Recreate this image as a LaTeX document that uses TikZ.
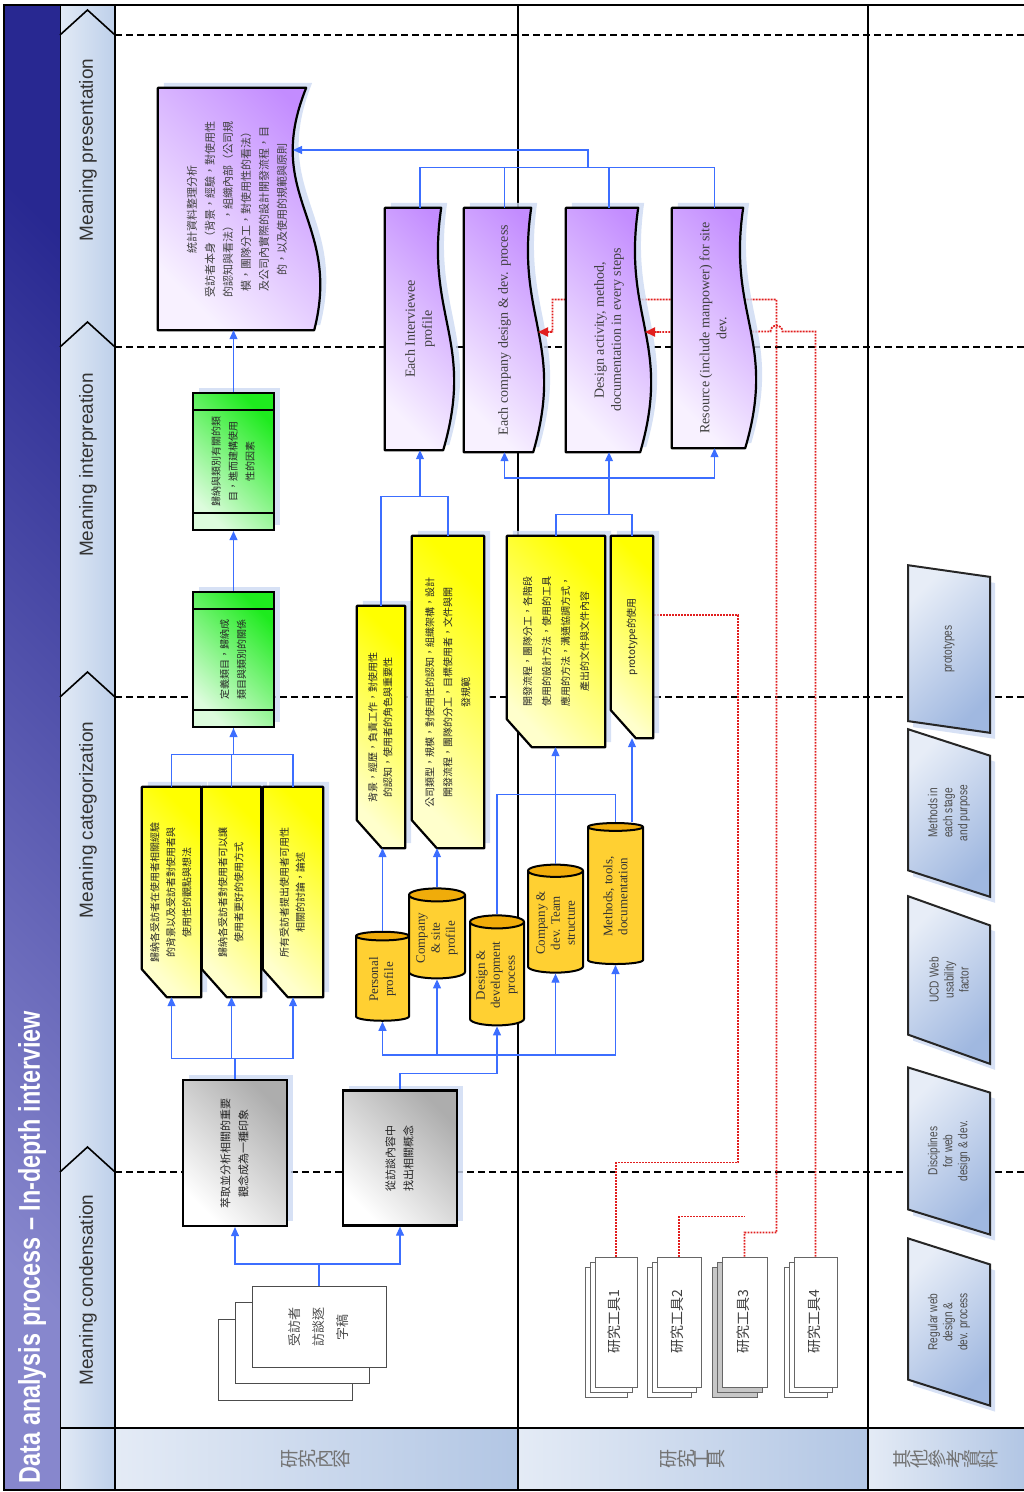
\documentclass[tikz,border=0pt]{standalone}
\usepackage{fontspec}
\setmainfont{Liberation Serif}
\setsansfont{Liberation Sans}
\newfontfamily\cjk{Noto Sans CJK TC}
\newfontfamily\condsans[FakeStretch=0.78]{Liberation Sans}
\usetikzlibrary{shapes.geometric,shadows,arrows.meta,calc}

\definecolor{flowblue}{RGB}{60,110,255}
\definecolor{linkred}{RGB}{225,30,30}
\definecolor{titleblue}{RGB}{40,40,145}
\definecolor{titlelight}{RGB}{135,135,205}
\definecolor{bandblue}{RGB}{190,208,234}
\definecolor{bandrow}{RGB}{178,198,228}
\definecolor{shadowblue}{RGB}{205,218,242}
\definecolor{docpurple}{RGB}{195,140,255}
\definecolor{boxgreen}{RGB}{30,235,30}
\definecolor{cylbody}{RGB}{255,208,50}
\definecolor{cylend}{RGB}{240,172,10}
\definecolor{refblue}{RGB}{160,184,224}

\pgfdeclarelayer{lanes}
\pgfdeclarelayer{links}
\pgfdeclarelayer{docs}
\pgfsetlayers{lanes,links,docs,main}

% lines of text running bottom to top
\newcommand{\vlines}[1]{\rotatebox{90}{\begin{tabular}{@{}c@{}}#1\end{tabular}}}
% one character laid on its side
\newcommand{\sidechar}[1]{\rotatebox[origin=c]{90}{#1}}
% document outline with a wavy right edge, behind node #1
\newcommand{\docedge}[5]{%
  \begin{pgfonlayer}{docs}
    \draw[doc body] (#1.north west) -- ($(#1.north east)+(-#2,0)$)
      .. controls ($(#1.north east)!.45!(#1.south east)+(-#3,0)$)
      and ($(#1.north east)!.55!(#1.south east)+(#4,0)$)
      .. ($(#1.south east)+(-#5,0)$) -- (#1.south west) -- cycle;
  \end{pgfonlayer}}
% card outline with the lower left corner cut, behind node #1
\newcommand{\cardedge}[1]{%
  \begin{pgfonlayer}{docs}
    \draw[card body] (#1.north west) -- (#1.north east) -- (#1.south east)
      -- ($(#1.south west)+(25,0)$) -- ($(#1.south west)+(0,-28)$) -- cycle;
  \end{pgfonlayer}}

\tikzset{
  lane line/.style={draw=black, line width=1.8pt},
  phase line/.style={draw=black, line width=2.4pt, dash pattern=on 7pt off 4pt},
  chevron/.style={draw=black, line width=1.6pt},
  title text/.style={rotate=90, text=white, font=\condsans\bfseries\fontsize{30}{34}\selectfont},
  phase text/.style={rotate=90, text=black!80, font=\sffamily\fontsize{19}{22}\selectfont},
  lane text/.style={text=black!55, font=\cjk\fontsize{19}{22}\selectfont},
  flow/.style={draw=flowblue, line width=1.1pt},
  flow arrow/.style={flow, -{Triangle[length=9pt, width=8pt]}},
  tool link/.style={draw=linkred, line width=1.8pt, dash pattern=on 1.8pt off 1.2pt},
  tool arrow/.style={tool link, -{Triangle[length=10pt, width=9pt]}},
  soft shadow/.style={drop shadow={shadow xshift=6pt, shadow yshift=5pt, fill=shadowblue, opacity=.8}},
  soft shadow turned/.style={drop shadow={shadow xshift=5pt, shadow yshift=-6pt, fill=shadowblue, opacity=.8}},
  box base/.style={draw=black, line width=2.2pt, inner sep=0pt, soft shadow},
  raw data/.style={draw=black!70, line width=1pt, fill=white, inner sep=0pt, text=black!70,
    copy shadow={shadow xshift=-34pt, shadow yshift=-33pt, fill=white, draw=black!70, line width=1pt},
    copy shadow={shadow xshift=-17pt, shadow yshift=-16pt, fill=white, draw=black!70, line width=1pt},
    font=\cjk\fontsize{13}{24}\selectfont},
  condense box/.style={box base, top color=black!32, bottom color=white, shading angle=-45,
    text=black!85, font=\cjk\fontsize{11}{18}\selectfont},
  card body/.style={draw=black, line width=2.2pt, line join=round, soft shadow,
    top color=yellow, middle color=yellow, bottom color=yellow!20!white, shading angle=-45},
  note card/.style={inner sep=0pt, text=black!85, font=\cjk\fontsize{10}{#1}\selectfont},
  note card/.default=16,
  theme box/.style={box base, top color=boxgreen, middle color=boxgreen, bottom color=boxgreen!15!white,
    shading angle=-45, text=black!85, font=\cjk\fontsize{10}{17}\selectfont,
    path picture={
      \draw[line width=1.6pt] ([yshift=-17pt]path picture bounding box.north west)
        -- ([yshift=-17pt]path picture bounding box.north east);
      \draw[line width=1.6pt] ([yshift=17pt]path picture bounding box.south west)
        -- ([yshift=17pt]path picture bounding box.south east);}},
  doc body/.style={draw=black, line width=2.2pt, line join=round, soft shadow,
    top color=docpurple, middle color=docpurple!75!white, bottom color=docpurple!12!white, shading angle=-45},
  doc text/.style={inner sep=0pt, text=black!75, font=\fontsize{14}{17}\selectfont},
  store/.style={cylinder, rotate=90, draw=black, line width=2pt, aspect=0.3, inner sep=1pt,
    cylinder uses custom fill, cylinder body fill=cylbody, cylinder end fill=cylend,
    align=center, text=black!80, font=\fontsize{13}{15}\selectfont},
  tool card/.style={draw=black!60, line width=.9pt, fill=white, inner sep=0pt, text=black!75,
    copy shadow={shadow xshift=-10pt, shadow yshift=-10pt, fill=#1, draw=black!60, line width=.9pt},
    copy shadow={shadow xshift=-5pt, shadow yshift=-5pt, fill=#1, draw=black!60, line width=.9pt},
    font=\cjk\fontsize{14}{16}\selectfont},
  tool card/.default=white,
  ref shape/.style={trapezium, trapezium left angle=73, trapezium right angle=107, trapezium stretches=true,
    rotate=90, minimum width=168, minimum height=82, inner sep=1pt, draw=black!85, line width=2pt,
    top color=refblue, bottom color=refblue!25!white, shading angle=-135, soft shadow turned,
    align=center, text=black!70, font=\condsans\fontsize{13}{15}\selectfont}
}

\begin{document}
\begin{tikzpicture}[x=1pt, y=-1pt]
  \useasboundingbox (0,0) rectangle (1024,1492);

  \begin{pgfonlayer}{lanes}
    % title band, phase band, lane heads
    \shade[top color=titleblue, middle color=titleblue, bottom color=titlelight, shading angle=-45] (4,5) rectangle (60,1490);
    \shade[left color=bandblue!45!white, right color=bandblue] (60,5) rectangle (115,1490);
    \foreach \x/\xx in {115/518, 518/868, 868/1024}
      \shade[left color=bandrow!35!white, right color=bandrow] (\x,1428) rectangle (\xx,1490);
    % phase borders
    \foreach \y in {35,347,697,1172}
      \draw[phase line] (115,\y) -- (1024,\y);
    \foreach \y in {10,322,672,1147}
      \draw[chevron] (60,\y+25) -- (87.5,\y) -- (115,\y+25);
    % lane borders
    \draw[lane line] (1024,5) -- (4,5) -- (4,1490) -- (1024,1490);
    \draw[lane line] (115,5) -- (115,1490);
    \draw[lane line] (518,5) -- (518,1490);
    \draw[lane line] (868,5) -- (868,1490);
    \draw[lane line] (60,1428) -- (1024,1428);
    \draw[line width=.8pt] (60,5) -- (60,1490);
  \end{pgfonlayer}

  \node[title text] (title) at (32,1247) {Data analysis process – In-depth interview};
  \node[phase text] (phase 1) at (88,1290) {Meaning condensation};
  \node[phase text] (phase 2) at (88,820) {Meaning categorization};
  \node[phase text] (phase 3) at (88,465) {Meaning interpreation};
  \node[phase text] (phase 4) at (88,150) {Meaning presentation};

  \node[lane text] (lane 1) at (316,1459) {\sidechar{研}\sidechar{究}\sidechar{內}\sidechar{容}};
  \node[lane text] (lane 2) at (693,1459) {\sidechar{研}\sidechar{究}\sidechar{工}\sidechar{具}};
  \node[lane text] (lane 3) at (946,1459) {\sidechar{其}\sidechar{他}\sidechar{參}\sidechar{考}\sidechar{資}\sidechar{料}};

  % meaning condensation
  \node[raw data, minimum width=134, minimum height=81] (raw) at (319,1327) {\vlines{受訪者\\訪談逐\\字稿}};
  \node[condense box, minimum width=104, minimum height=146] (unit a) at (235,1153) {\vlines{萃取並分析相關的重要\\觀念成為一種印象}};
  \node[condense box, minimum width=114, minimum height=135] (unit b) at (400,1158) {\vlines{從訪談內容中\\找出相關概念}};

  % meaning categorization
  \node[note card, minimum width=59, minimum height=210] (cat a) at (171.5,892) {\vlines{歸納各受訪者在使用者相關經驗\\的背景以及受訪者對使用者與\\使用性的觀點與想法}};
  \node[note card, minimum width=59, minimum height=210] (cat b) at (231.5,892) {\vlines{歸納各受訪者對使用者可以讓\\使用者更好的使用方式}};
  \node[note card, minimum width=60, minimum height=210] (cat c) at (293,892) {\vlines{所有受訪者提出使用者可用性\\相關的討論，論述}};

  \node[store, minimum width=53, minimum height=89] (store 1) at (382.5,979.5) {Personal\\profile};
  \node[store, minimum width=56, minimum height=90] (store 2) at (437,938) {Company\\\& site\\profile};
  \node[store, minimum width=54, minimum height=110] (store 3) at (497,975) {Design \&\\development\\process};
  \node[store, minimum width=55, minimum height=108] (store 4) at (555.5,923) {Company \&\\dev. Team\\structure};
  \node[store, minimum width=55, minimum height=141] (store 5) at (615.5,896.5) {Methods, tools,\\documentation};

  \node[note card=15, minimum width=48, minimum height=242] (topic a) at (381,727) {\vlines{背景，經歷，負責工作，對使用性\\的認知，使用者的角色與重要性}};
  \node[note card=18, minimum width=72, minimum height=312] (topic b) at (448,692) {\vlines{公司類型，規模，對使用性的認知，組織架構，設計\\開發流程，團隊的分工，目標使用者，文件與開\\發規範}};
  \node[note card=19, minimum width=98, minimum height=211] (topic c) at (556,641.5) {\vlines{開發流程，團隊分工，各階段\\使用的設計方法，使用的工具\\應用的方法，溝通協調方式，\\產出的文件與文件內容}};
  \node[note card, minimum width=42, minimum height=202] (topic d) at (632,637) {\vlines{prototype的使用}};
  \foreach \c in {cat a,cat b,cat c,topic a,topic b,topic c,topic d}{
    \cardedge{\c}
  }

  % meaning interpretation
  \node[theme box, minimum width=81, minimum height=135] (theme a) at (233.5,659.5) {\vlines{定義類目，歸納成\\類目與類別的關係}};
  \node[theme box, minimum width=81, minimum height=137] (theme b) at (233.5,461.5) {\vlines{歸納與類別有關的類\\目，進而建構使用\\性的因素}};

  \node[doc text, minimum width=70, minimum height=242] (record a) at (420,329) {\vlines{Each Interviewee\\profile}\hspace{14pt}};
  \node[doc text, minimum width=81, minimum height=244] (record b) at (504.5,330) {\vlines{Each company design \& dev. process}\hspace{14pt}};
  \node[doc text, minimum width=86, minimum height=244] (record c) at (609,330) {\vlines{Design activity, method,\\documentation in every steps}\hspace{14pt}};
  \node[doc text, minimum width=85, minimum height=240] (record d) at (714.5,328) {\vlines{Resource (include manpower) for site\\dev.}\hspace{14pt}};
  \foreach \r in {a,b,c,d}{
    \docedge{record \r}{14}{30}{20}{12}
  }

  % meaning presentation
  \node[doc text, minimum width=159, minimum height=242, font=\cjk\fontsize{11}{18}\selectfont] (summary) at (237.5,209)
    {\vlines{統計資料整理分析\\受訪者本身（背景，經驗，對使用性\\的認知與看法），組織內部（公司規\\模，團隊分工，對使用性的看法）\\及公司內實際的設計開發流程，目\\的，以及使用的規範與原則}\hspace{16pt}};
  \docedge{summary}{11}{55}{25}{3}

  % research tools
  \node[tool card, minimum width=42, minimum height=130] (tool 1) at (616,1322) {\vlines{研究工具1}};
  \node[tool card, minimum width=44, minimum height=130] (tool 2) at (679,1322) {\vlines{研究工具2}};
  \node[tool card=black!22, minimum width=45, minimum height=130] (tool 3) at (744.5,1322) {\vlines{研究工具3}};
  \node[tool card, minimum width=43, minimum height=130] (tool 4) at (815.5,1322) {\vlines{研究工具4}};

  % other references
  \node[ref shape] (ref 1) at (949,1322) {Regular web\\design \&\\dev. process};
  \node[ref shape] (ref 2) at (949,1151) {Disciplines\\for web\\design \& dev.};
  \node[ref shape] (ref 3) at (949,980) {UCD Web\\usability\\factor};
  \node[ref shape] (ref 4) at (949,813) {Methods in\\each stage\\and purpose};
  \node[ref shape] (ref 5) at (949,649) {prototypes};

  % blue flow
  \draw[flow arrow] (raw.north) -- ++(0,-22) -| (unit a.south);
  \draw[flow arrow] (raw.north) -- ++(0,-22) -| (unit b.south);
  \draw[flow arrow] (unit a.north) -- ++(0,-20) -| (cat a.south);
  \draw[flow arrow] (unit a.north) -- ++(0,-20) -| (cat b.south);
  \draw[flow arrow] (unit a.north) -- ++(0,-20) -| (cat c.south);
  \draw[flow arrow] (cat a.north) -- ++(0,-32) -| (theme a.south);
  \draw[flow] (cat c.north) -- ++(0,-32) -| (theme a.south);
  \draw[flow] (cat b.north) -- ++(0,-32);
  \draw[flow arrow] (theme a.north) -- (theme b.south);
  \draw[flow arrow] (theme b.north) -- (theme b.north |- summary.south);

  \coordinate (store feed) at (497,1055);
  \draw[flow] (unit b.north) -- ++(0,-16) -| (store feed);
  \foreach \s in {1,...,5}
    \draw[flow arrow] (store feed) -| (store \s.west);
  \draw[flow arrow] (store 1.east) -- (store 1.east |- topic a.south);
  \draw[flow arrow] (store 2.east) -- (store 2.east |- topic b.south);
  \draw[flow arrow] (store 4.east) -- (store 4.east |- topic c.south);
  \draw[flow arrow] (topic d.south |- store 5.east) -- (topic d.south);
  \draw[flow] (store 3.east) -- ++(0,-120) -| (store 5.east);

  \draw[flow] (topic a.north) -- ++(0,-109) -| (topic b.north);
  \coordinate (profile feed) at (420,497);
  \draw[flow arrow] (profile feed) -- (record a.south);
  \draw[flow] (topic c.north) -- ++(0,-21) -| (topic d.north);
  \coordinate (process feed) at (609,515);
  \draw[flow arrow] (process feed) -- (record c.south);
  \coordinate (process fork) at (609,478);
  \draw[flow arrow] (process fork) -| (record b.south);
  \draw[flow arrow] (process fork) -| (record d.south);

  \draw[flow] (record a.north) -- ++(0,-40) -| (record d.north);
  \draw[flow] (record b.north) -- ++(0,-40);
  \draw[flow] (record c.north) -- ++(0,-40);
  \coordinate (record bus) at (588,168);
  \coordinate (summary in) at (293,150);
  \draw[flow arrow] (record bus) |- (summary in);

  % red tool links, running behind the documents
  \coordinate (record b in) at (538,332);
  \coordinate (record c in) at (645,332);
  \begin{pgfonlayer}{links}
    \draw[tool link] (tool 1.north) |- ++(122,-94) |- ([yshift=22pt]topic d.east);
    \draw[tool link] (tool 2.north) |- ++(65.5,-40);
    \draw[tool link] (tool 3.north) -- ++(0,-24) -- ++(32,0) -- ++(0,-933) -| ++(-224,32) -- (record b in);
    \draw[tool link] (tool 4.north) |- ++(-33,-925) arc[start angle=0, end angle=-180, radius=6] -- (record c in);
  \end{pgfonlayer}
  \draw[tool arrow] ($(record b in)+(14,0)$) -- (record b in);
  \draw[tool arrow] ($(record c in)+(14,0)$) -- (record c in);
\end{tikzpicture}
\end{document}
